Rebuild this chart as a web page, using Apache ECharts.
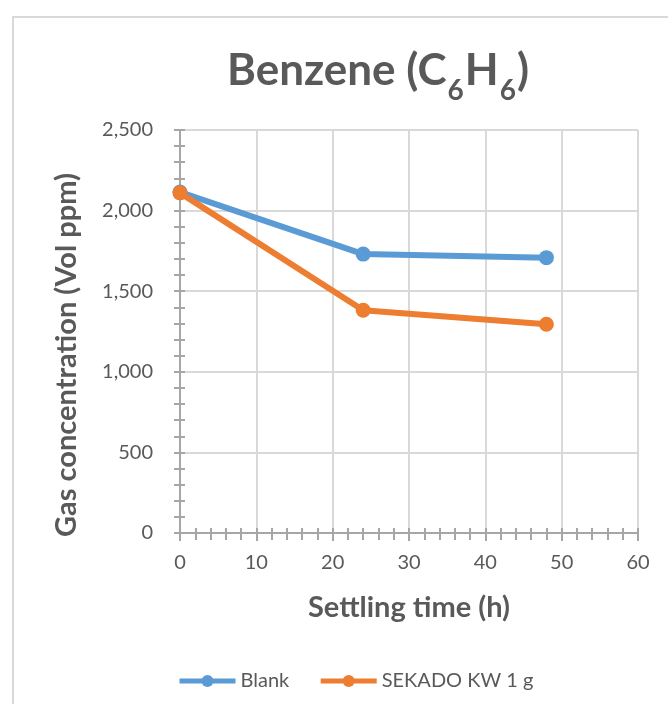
<!DOCTYPE html>
<html>
<head>
<meta charset="utf-8">
<script src="https://cdn.jsdelivr.net/npm/echarts@6/dist/echarts.min.js"></script>
<style>
html,body{margin:0;padding:0;background:#fff;}
#c{width:668px;height:704px;}
</style>
</head>
<body>
<div id="c"></div>
<script>
const hours = [0, 24, 48];
const blank = [2115, 1730, 1708];
const sekado = [2110, 1382, 1295];
const seriesNames = ['Blank', 'SEKADO KW 1 g'];
const xTicks = {min: 0, max: 60, interval: 10};
const yTicks = {min: 0, max: 2500, interval: 500};

const FONT = 'Lato';
const TXT = '#595959';
const AX = '#a6a6a6';
const GRID = '#d9d9d9';

const chart = echarts.init(document.getElementById('c'), null, {renderer: 'canvas'});

function pairs(xs, ys) { return xs.map((x, i) => [x, ys[i]]); }

const baseX = {
  type: 'value', min: xTicks.min, max: xTicks.max, interval: xTicks.interval,
  position: 'bottom'
};
const baseY = {
  type: 'value', min: yTicks.min, max: yTicks.max, interval: yTicks.interval,
  position: 'left'
};

chart.setOption({
  backgroundColor: '#fff',
  animation: false,
  title: {
    text: '{a|Benzene (C}{s|6}{a|H}{s|6}{a|)}',
    left: 373, top: 44, textAlign: 'center',
    textStyle: {
      rich: {
        a: {fontFamily: FONT, fontSize: 44, fontWeight: 'bold', color: TXT, lineHeight: 52, verticalAlign: 'top'},
        s: {fontFamily: FONT, fontSize: 28, fontWeight: 'bold', color: TXT, lineHeight: 28, verticalAlign: 'top', padding: [28, 1, 0, 1]}
      }
    }
  },
  legend: {
    left: 177, top: 671, padding: 0,
    itemWidth: 56, itemHeight: 15, itemGap: 29,
    lineStyle: {width: 5},
    textStyle: {fontFamily: FONT, fontSize: 20, color: TXT},
    data: seriesNames
  },
  grid: {left: 180, right: 30, top: 130, bottom: 171, containLabel: false},
  xAxis: [
    Object.assign({}, baseX, {
      name: 'Settling time (h)', nameLocation: 'middle', nameGap: 60,
      nameTextStyle: {fontFamily: FONT, fontSize: 29, fontWeight: 'bold', color: TXT},
      axisLine: {show: true, lineStyle: {color: AX, width: 2}},
      axisTick: {show: true, length: 8, lineStyle: {color: AX, width: 2}},
      minorTick: {show: true, splitNumber: 5, length: 7, lineStyle: {color: AX, width: 2}},
      axisLabel: {margin: 20, fontFamily: FONT, fontSize: 20, color: TXT},
      splitLine: {show: true, lineStyle: {color: GRID, width: 2}}
    }),
    Object.assign({}, baseX, {
      axisLine: {show: false},
      axisTick: {show: true, inside: true, length: 5, lineStyle: {color: AX, width: 2}},
      minorTick: {show: true, splitNumber: 5, length: 5, lineStyle: {color: AX, width: 2}},
      axisLabel: {show: false},
      splitLine: {show: false}
    })
  ],
  yAxis: [
    Object.assign({}, baseY, {
      axisLine: {show: true, lineStyle: {color: AX, width: 2}},
      axisTick: {show: true, length: 6, lineStyle: {color: AX, width: 2}},
      minorTick: {show: true, splitNumber: 5, length: 6, lineStyle: {color: AX, width: 2}},
      axisLabel: {margin: 27, fontFamily: FONT, fontSize: 20, color: TXT,
        formatter: v => v.toLocaleString('en-US')},
      splitLine: {show: true, lineStyle: {color: GRID, width: 2}}
    }),
    Object.assign({}, baseY, {
      axisLine: {show: false},
      axisTick: {show: true, inside: true, length: 5, lineStyle: {color: AX, width: 2}},
      minorTick: {show: true, splitNumber: 5, length: 5, lineStyle: {color: AX, width: 2}},
      axisLabel: {show: false},
      splitLine: {show: false}
    })
  ],
  graphic: [
    {type: 'rect', shape: {x: 13, y: 17, width: 700, height: 720}, style: {fill: 'none', stroke: '#d9d9d9', lineWidth: 2}, z: -10, silent: true},
    {type: 'text', x: 67, y: 355, rotation: Math.PI / 2,
      style: {text: 'Gas concentration (Vol ppm)', fontFamily: FONT, fontSize: 29, fontWeight: 'bold', fill: TXT, align: 'center', verticalAlign: 'middle'}}
  ],
  series: [
    {name: seriesNames[0], type: 'line', data: pairs(hours, blank), xAxisIndex: 0, yAxisIndex: 0,
      color: '#5B9BD5', symbol: 'circle', symbolSize: 15, lineStyle: {width: 6}, z: 3},
    {name: seriesNames[1], type: 'line', data: pairs(hours, sekado), xAxisIndex: 0, yAxisIndex: 0,
      color: '#ED7D31', symbol: 'circle', symbolSize: 15, lineStyle: {width: 6}, z: 4}
  ]
});
</script>
</body>
</html>
